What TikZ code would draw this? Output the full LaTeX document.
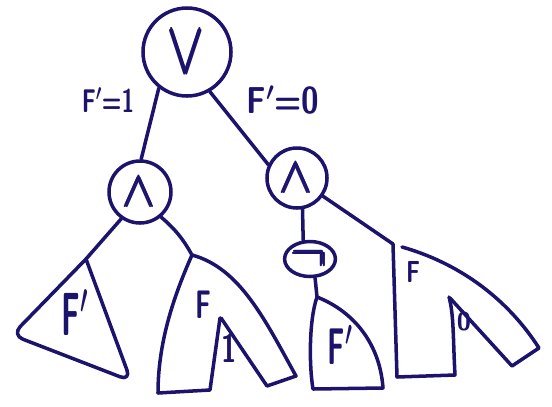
\RequirePackage{fix-cm}
\documentclass[tikz,border=0pt]{standalone}
\usepackage{amsmath}
\usepackage{graphicx}
\usepackage{xcolor}
\usetikzlibrary{shapes.geometric}
\definecolor{ink}{RGB}{28,20,108}

\tikzset{
  gate/.style={draw,circle,inner sep=0pt},
  op/.style={font=\fontsize{#1}{#1}\selectfont},
  lab/.style={font=\sffamily\bfseries\boldmath\fontsize{#1}{#1}\selectfont},
}

\begin{document}
\begin{tikzpicture}[x=0.03cm,y=-0.03cm,ink,line width=3pt,line cap=round,line join=round]
\useasboundingbox (0,0) rectangle (552,406);
% gates
\node[gate,minimum size=2.64cm,op=60] (or) at (187,52) {\scalebox{0.78}[1.05]{$\pmb{\vee}$}};
\node[gate,minimum size=1.86cm,op=42] (andL) at (140,192) {$\pmb{\wedge}$};
\node[gate,minimum size=1.8cm,op=42] (andR) at (297,178) {$\pmb{\wedge}$};
\node[draw,ellipse,inner sep=0pt,minimum width=1.5cm,minimum height=1.05cm,op=46] (neg) at (310,259) {$\pmb{\neg}$};
% edge labels
\node[lab=28] (one) at (108,100) {\scalebox{0.7}[1]{F$'$=1}};
\node[lab=32] (zero) at (283,100) {\scalebox{0.85}[1]{F$'$=0}};
% tops of the subtrees
\coordinate (tL) at (86,259);
\coordinate (tM) at (192,255);
\coordinate (tN) at (317,297);
\coordinate (tR) at (393,244);
% edges
\draw (or.232) -- (andL.88);
\draw (or.300) -- (andR.155);
\draw (andL.235) -- (tL);
\draw (andL.-50) to[bend left=10] (tM);
\draw (andR.-80) -- (neg.110);
\draw (neg.-75) -- (tN);
\draw (andR.-35) -- (tR);
% F' below the left and
\draw (tL) [rounded corners=10] -- (12,335) -- (131,381) [sharp corners] -- cycle;
\node[lab=52] (fL) at (75,313) {\scalebox{0.5}[1]{F$'$}};
% F with leaf 1
\draw (tM) .. controls (172,300) and (158,345) .. (158,393) -- (210,390) -- (220,318);
\draw (221,318) -- (267,386) -- (296,376) .. controls (265,320) and (240,268) .. (tM);
\node[lab=34] (fM) at (203,305) {\scalebox{0.65}[1]{F}};
\node[lab=34] (leafM) at (229,348) {\scalebox{0.7}[1]{1}};
% F' below the not
\draw (tN) .. controls (309,320) and (309,365) .. (313,389) -- (383,388) .. controls (380,345) and (355,312) .. (tN);
\node[lab=44] (fN) at (340,345) {\scalebox{0.55}[1]{F$'$}};
% F with leaf 0
\draw (tR) -- (397,377) -- (455,375) .. controls (453,340) and (454,315) .. (449,297);
\draw (450,298) -- (512,366) -- (539,348) .. controls (505,295) and (455,262) .. (402,247);
\node[lab=26] (fR) at (413,272) {\scalebox{0.75}[1]{F}};
\node[lab=22] (leafR) at (464,322) {0};
\end{tikzpicture}
\end{document}
